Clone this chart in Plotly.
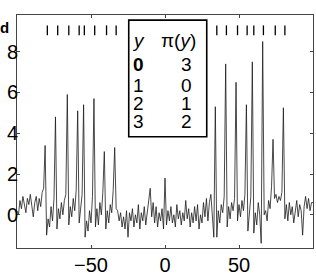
import plotly.graph_objects as go

# time axis (one sample per unit)
t_start = -100
noise = [
    0.2, 0.0, 0.7, 0.3, 0.9, 0.4, 0.1, 0.8, 0.5, 1.0,      # -100..-91
    0.3, -0.1, 0.6, 0.9, 0.2, 0.8, 0.4, 1.1, 1.3, 1.5,     # -90..-81
    -1.0, -0.2, -0.6, 0.4, -0.3, 0.8, 1.0, -0.7, 0.3, -0.2, # -80..-71
    0.6, 0.0, 0.7, 1.0, 1.2, -0.5, 0.4, -0.1, 0.8, 0.2,    # -70..-61
    1.2, 1.0, -0.4, 0.5, 1.0, 1.0, -1.1, -0.3, -0.8, 0.2,  # -60..-51
    -0.4, 0.9, 1.0, -0.6, 0.3, -0.5, 0.6, 0.0, 1.1, 1.0,   # -50..-41
    -0.7, 0.2, -0.4, 0.5, 0.1, 1.2, 1.0, 0.3, 0.2, -0.3,   # -40..-31
    0.1, -0.6, -0.1, -0.7, 0.2, -1.1, 0.1, -0.3, 0.3, -0.6, # -30..-21
    0.0, -0.4, 0.5, -0.7, 0.1, -0.3, 0.4, -0.5, 0.2, 0.6,  # -20..-11
    1.3, -0.1, 0.6, -0.4, 0.4, -0.6, 0.1, -0.3, 0.3, -0.7, # -10..-1
    1.8, -0.5, 0.2, -0.3, 0.4, -0.4, 0.0, -0.6, 0.5, -0.2, # 0..9
    0.2, -0.5, 0.1, -0.3, 0.7, -0.2, 0.3, -0.6, 0.1, -0.4, # 10..19
    0.4, -0.3, 0.5, -0.7, 0.0, -0.4, 0.6, -0.1, 0.8, -0.3, # 20..29
    0.6, 1.0, -0.1, -1.1, 1.0, -1.1, 0.2, -0.4, 0.5, 0.1,  # 30..39
    0.9, 1.0, -0.6, 0.4, -0.2, 0.6, 0.2, 0.8, 1.0, -0.3,   # 40..49
    0.5, -0.1, 0.7, 0.2, 1.0, 1.0, -0.8, 0.3, 0.9, 1.0,    # 50..59
    -0.9, 0.1, -0.5, 0.6, 0.0, -1.4, 1.0, 0.0, 0.2, -0.3,  # 60..69
    0.7, 0.3, 1.4, 1.0, 0.8, 1.0, 0.6, 0.9, 0.7, 1.1,      # 70..79
    1.0, -0.2, 0.5, -0.3, 0.6, 0.0, 0.4, -0.4, 0.3, 0.7,   # 80..89
    -0.1, 0.5, 0.2, -1.0, 0.4, 0.9, 0.3, 0.8, 0.2, 0.6,    # 90..99
    0.6,                                                    # 100
]

# spikes (sample positions and peak values)
spike_t = [-81, -74, -66, -59, -55, -48, -41, -34, 34, 41, 48, 55, 59, 66, 73, 80]
spike_h = [3.4, 4.8, 5.9, 5.1, 5.4, 5.7, 3.1, 3.3, 5.3, 7.4, 6.5, 5.4, 7.5, 8.5, 3.7, 5.25]

# spike-time markers at the top
mark_t = [-79.5, -72.5, -65, -58, -54.5, -47.5, -39.5, -33,
          35, 41.5, 49, 55.5, 60, 66.5, 74.5, 81]
mark_y = 9.05

# table
col_y = ["<b>0</b>", "1", "2", "3"]
col_pi = ["3", "0", "1", "2"]

x_ticks = [-50, 0, 50]
y_ticks = [0, 2, 4, 6, 8]

t = [t_start + i for i in range(len(noise))]
y = list(noise)
for st, sh in zip(spike_t, spike_h):
    y[st - t_start] = sh

fig = go.Figure()
fig.add_trace(go.Scatter(x=t, y=y, mode="lines",
                         line=dict(color="#1a1a1a", width=0.8),
                         hoverinfo="skip", showlegend=False))
fig.add_trace(go.Scatter(x=mark_t, y=[mark_y] * len(mark_t), mode="markers",
                         marker=dict(symbol="line-ns", size=7,
                                     line=dict(color="black", width=1.3)),
                         hoverinfo="skip", showlegend=False))

FONT = "Liberation Sans, Arial, Helvetica, sans-serif"
FS = 19

# table box
fig.add_shape(type="rect", xref="x", yref="y", x0=-24.5, x1=28.2, y0=3.83, y1=9.55,
              line=dict(color="black", width=1.6), fillcolor="white", layer="above")

row_y = [7.39, 6.36, 5.48, 4.56]
fig.add_annotation(x=-18.2, y=8.55, xref="x", yref="y", text="<i>y</i>",
                   showarrow=False, font=dict(size=FS, color="black", family=FONT))
fig.add_annotation(x=8.9, y=8.55, xref="x", yref="y", text="π(<i>y</i>)",
                   showarrow=False, font=dict(size=FS, color="black", family=FONT))
for ry, a, b in zip(row_y, col_y, col_pi):
    fig.add_annotation(x=-18.2, y=ry, xref="x", yref="y", text=a, showarrow=False,
                       font=dict(size=FS, color="black", family=FONT))
    fig.add_annotation(x=14.5, y=ry, xref="x", yref="y", text=b, showarrow=False,
                       font=dict(size=FS, color="black", family=FONT))

# panel label
fig.add_annotation(x=-19 / 296, y=0.99, xref="paper", yref="paper", text="<b>d</b>",
                   xanchor="left", yanchor="top",
                   showarrow=False, font=dict(size=15, color="black", family=FONT))

axis_common = dict(showline=True, linecolor="#444", linewidth=1, mirror="ticks",
                   ticks="inside", ticklen=3, tickcolor="#444", showgrid=False,
                   zeroline=False, automargin=False,
                   tickfont=dict(size=20, color="black", family=FONT))

fig.update_layout(
    width=316, height=277,
    margin=dict(l=17, r=3, t=15, b=29),
    paper_bgcolor="white", plot_bgcolor="white",
    xaxis=dict(range=[-100, 100], tickvals=x_ticks, ticklabelstandoff=-1,
               ticktext=["−50", "0", "50"], **axis_common),
    yaxis=dict(range=[-1.63, 9.8], tickvals=y_ticks, ticklabelstandoff=-6,
               **axis_common),
)

fig.write_html("out.html", config={"displayModeBar": False},
               post_script="document.body.style.margin='0';")
